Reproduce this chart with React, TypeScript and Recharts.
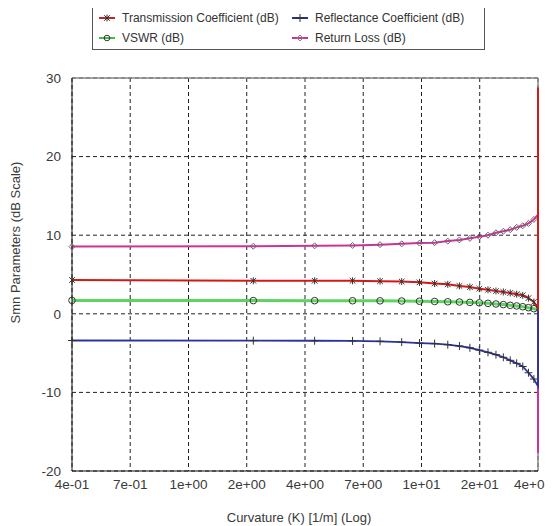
import { LineChart, Line, XAxis, YAxis, CartesianGrid, ReferenceLine } from "recharts";

// curvature K [1/m]; the last two rows sit at K = 40 and draw the spike
const curvature = [0.4, 2.4, 4.4, 6.4, 8.4, 10.4, 12.4, 14.4, 16.4, 18.4, 20.4, 22.4, 24.4, 26.4, 28.4, 30.4, 32.4, 34.4, 36.4, 38.4, 40, 40];
const transmission = [4.3, 4.2, 4.2, 4.2, 4.15, 4.1, 4.0, 3.85, 3.75, 3.55, 3.4, 3.2, 3.05, 2.9, 2.78, 2.65, 2.5, 2.35, 2.0, 1.5, 0.7, 28.8];
const reflectance = [-3.4, -3.42, -3.43, -3.45, -3.5, -3.6, -3.72, -3.8, -3.93, -4.1, -4.32, -4.62, -4.9, -5.2, -5.53, -5.92, -6.3, -6.7, -7.5, -8.3, -9.2, 0.7];
const vswr = [1.7, 1.68, 1.67, 1.66, 1.65, 1.63, 1.6, 1.57, 1.53, 1.5, 1.45, 1.4, 1.33, 1.25, 1.17, 1.08, 1.0, 0.9, 0.78, 0.65, 0.5, null];
const returnLoss = [8.55, 8.6, 8.65, 8.7, 8.8, 8.9, 9.0, 9.05, 9.25, 9.4, 9.6, 9.8, 10.0, 10.3, 10.5, 10.7, 11.0, 11.2, 11.5, 12.0, 12.6, -17.7];
const markerCount = 20;

const xTicks = [0.4, 0.711, 1.265, 2.249, 4, 7.113, 12.65, 22.49, 40];
const xTickLabels = ["4e-01", "7e-01", "1e+00", "2e+00", "4e+00", "7e+00", "1e+01", "2e+01", "4e+01"];
const yTicks = [-20, -10, 0, 10, 20, 30];

const data = curvature.map((k, i) => ({
  k,
  tc: transmission[i],
  rc: reflectance[i],
  vswr: vswr[i],
  rl: returnLoss[i],
}));

const FONT = "'Liberation Sans', Arial, sans-serif";
const MARK = "#333";
const TEXT = "#3a3a3a";

function starPath(cx: number, cy: number, r = 3.5) {
  const d = r * 0.8;
  return `M${cx},${cy - r}V${cy + r}M${cx - d},${cy - d}L${cx + d},${cy + d}M${cx - d},${cy + d}L${cx + d},${cy - d}`;
}
function plusPath(cx: number, cy: number, r = 4) {
  return `M${cx},${cy - r}V${cy + r}M${cx - r},${cy}H${cx + r}`;
}
function diamondPath(cx: number, cy: number, r = 3) {
  return `M${cx},${cy - r}L${cx + r},${cy}L${cx},${cy + r}L${cx - r},${cy}Z`;
}

function makeDot(kind: string) {
  return (props: any) => {
    const { cx, cy, index } = props;
    if (index >= markerCount || cx == null || cy == null) return <g key={`${kind}${index}`} />;
    if (kind === "o")
      return <circle key={`${kind}${index}`} cx={cx} cy={cy} r={3.3} fill="none" stroke={MARK} strokeWidth={1} />;
    const d = kind === "*" ? starPath(cx, cy) : kind === "+" ? plusPath(cx, cy) : diamondPath(cx, cy);
    return <path key={`${kind}${index}`} d={d} fill="none" stroke={kind === "d" ? "#666" : MARK} strokeWidth={1} />;
  };
}

function XTick(props: any) {
  const { x, y, index } = props;
  // the last label would run past the window edge, nudge it in a little
  const shift = index === xTickLabels.length - 1 ? -5 : 0;
  return (
    <text x={x + shift} y={y} dy="0.71em" textAnchor="middle" fontSize={13.5} fill={TEXT} fontFamily={FONT}>
      {xTickLabels[index]}
    </text>
  );
}

function LegendIcon({ color, kind, width = 2 }: { color: string; kind: string; width?: number }) {
  const cx = 8, cy = 7;
  return (
    <svg width={16} height={14} style={{ verticalAlign: "middle", marginRight: 7 }}>
      <line x1={0} y1={cy} x2={16} y2={cy} stroke={color} strokeWidth={width} />
      {kind === "o" ? (
        <circle cx={cx} cy={cy} r={2.8} fill="none" stroke={MARK} />
      ) : (
        <path
          d={kind === "*" ? starPath(cx, cy, 3.5) : kind === "+" ? plusPath(cx, cy, 4) : diamondPath(cx, cy, 3)}
          fill="none"
          stroke={kind === "d" ? "#888" : MARK}
        />
      )}
    </svg>
  );
}

const legendItems = [
  { name: "Transmission Coefficient (dB)", color: "#c02828", kind: "*" },
  { name: "Reflectance Coefficient (dB)", color: "#283090", kind: "+" },
  { name: "VSWR (dB)", color: "#44bb44", kind: "o" },
  { name: "Return Loss (dB)", color: "#d03090", kind: "d" },
];

export default function App() {
  return (
    <div style={{ position: "relative", width: 545, height: 518, fontFamily: FONT }}>
      <div
        style={{
          position: "absolute",
          left: 84,
          top: -3,
          width: 391,
          height: 41,
          border: "1px solid #555",
          paddingTop: 2,
          background: "#fff",
          display: "grid",
          gridTemplateColumns: "193px 198px",
          gridAutoRows: "20px",
          fontSize: 12,
          color: "#333",
          zIndex: 2,
        }}
      >
        {legendItems.map((it) => (
          <div key={it.name} style={{ paddingLeft: 6, display: "flex", alignItems: "center", whiteSpace: "nowrap" }}>
            <LegendIcon color={it.color} kind={it.kind} />
            {it.name}
          </div>
        ))}
      </div>
      <LineChart width={545} height={518} data={data} margin={{ top: 70, right: 15, bottom: 25, left: 0 }}>
        <CartesianGrid stroke="#222" strokeDasharray="4 3" />
        <ReferenceLine y={30} stroke="#888" strokeWidth={1.5} />
        <ReferenceLine x={40} stroke="#888" strokeWidth={1.5} />
        <XAxis
          dataKey="k"
          type="number"
          scale="log"
          domain={[0.4, 40]}
          ticks={xTicks}
          interval={0}
          tickLine={false}
          axisLine={{ stroke: "#111" }}
          tick={<XTick />}
          height={30}
          label={{
            content: (p: any) => {
              const vb = p.viewBox;
              return (
                <text x={vb.x + vb.width / 2 - 6} y={509} textAnchor="middle" dominantBaseline="central" fontSize={13} fill={TEXT} fontFamily={FONT}>
                  Curvature (K) [1/m] (Log)
                </text>
              );
            },
          }}
        />
        <YAxis
          type="number"
          domain={[-20, 30]}
          ticks={yTicks}
          interval={0}
          tickLine={false}
          tickMargin={5}
          axisLine={{ stroke: "#111" }}
          tick={{ fontSize: 13.5, fill: TEXT, fontFamily: FONT }}
          width={64}
          label={{
            content: (p: any) => {
              const vb = p.viewBox;
              const x = vb.x + 7;
              const y = vb.y + vb.height / 2 - 32;
              return (
                <text x={x} y={y} transform={`rotate(-90 ${x} ${y})`} textAnchor="middle" dominantBaseline="central" fontSize={13} fill={TEXT} fontFamily={FONT}>
                  Smn Parameters (dB Scale)
                </text>
              );
            },
          }}
        />
        <Line dataKey="rl" stroke="#cc3399" strokeWidth={2} dot={makeDot("d")} activeDot={false} isAnimationActive={false} />
        <Line dataKey="vswr" stroke="#5fd35f" strokeWidth={3} dot={makeDot("o")} activeDot={false} isAnimationActive={false} />
        <Line dataKey="rc" stroke="#2a3399" strokeWidth={1.8} dot={makeDot("+")} activeDot={false} isAnimationActive={false} />
        <Line dataKey="tc" stroke="#d41818" strokeWidth={2} dot={makeDot("*")} activeDot={false} isAnimationActive={false} />
      </LineChart>
    </div>
  );
}
